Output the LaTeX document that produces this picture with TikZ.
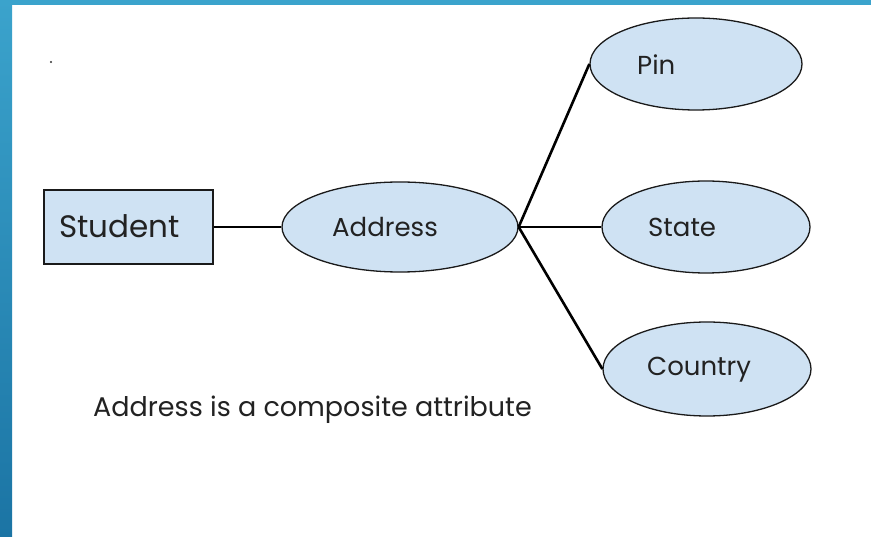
\documentclass[tikz,border=0pt]{standalone}
\usepackage{fontspec}
\setmainfont{Poppins}
\usetikzlibrary{shapes.geometric}
\definecolor{frametop}{HTML}{3BA3CC}
\definecolor{framebot}{HTML}{1B74A4}
\definecolor{boxfill}{HTML}{CFE2F3}
\definecolor{inkline}{HTML}{1A1A1A}
\definecolor{inktext}{HTML}{222222}
\begin{document}
\begin{tikzpicture}[x=1pt,y=-1pt,
  entity/.style={draw=inkline,line width=1.3pt,fill=boxfill,minimum width=169pt,minimum height=74pt},
  attr/.style={ellipse,draw=inkline,line width=1.3pt,fill=boxfill,inner sep=0pt},
  label/.style={anchor=base west,inner sep=0pt,text=inktext,font=\fontsize{26}{30}\selectfont},
  link/.style={line width=2.6pt,draw=black}]
  % page and frame
  \useasboundingbox (0,0) rectangle (871,537);
  \fill[white] (0,0) rectangle (871,537);
  \shade[top color=frametop,bottom color=framebot] (0,0) rectangle (12,537);
  \fill[frametop] (0,0) rectangle (871,5);
  \fill[black!80] (51,62) circle (1.1pt);
  % entity and attributes
  \node[entity] (student) at (128.5,227) {};
  \node[attr,minimum width=236pt,minimum height=90pt] (address) at (400,227) {};
  \node[attr,minimum width=212pt,minimum height=92pt] (pin) at (696,64) {};
  \node[attr,minimum width=208pt,minimum height=92pt] (state) at (706,227) {};
  \node[attr,minimum width=208pt,minimum height=94pt] (country) at (707,369) {};
  % names inside the shapes
  \node[label,font=\fontsize{31}{34}\selectfont] (studentname) at (59,238) {Student};
  \node[label] (addressname) at (332,237) {Address};
  \node[label] (pinname) at (637,75) {Pin};
  \node[label] (statename) at (648,237) {State};
  \node[label] (countryname) at (647,376) {Country};
  % connectors
  \draw[link] (student.east) -- (address.west);
  \draw[link] (address.east) -- (pin.west);
  \draw[link] (address.east) -- (state.west);
  \draw[link] (address.east) -- (country.west);
  % caption
  \node[label,font=\fontsize{27}{30}\selectfont] (caption) at (93,417) {Address is a composite attribute};
\end{tikzpicture}
\end{document}
